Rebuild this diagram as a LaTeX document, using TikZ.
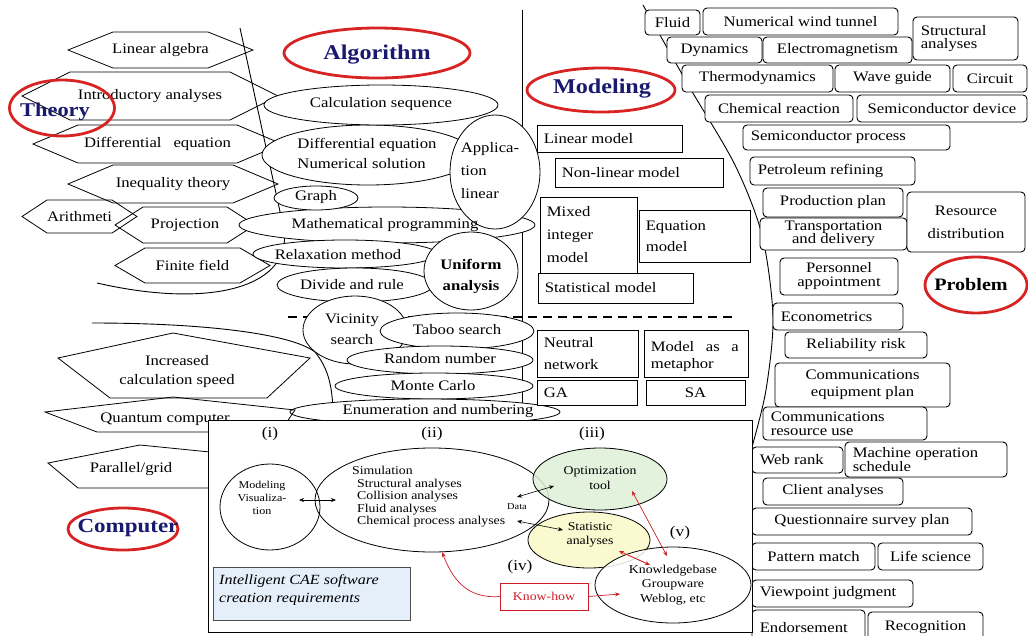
\documentclass[tikz,border=0pt]{standalone}
\usepackage{fontspec}
\setmainfont{Liberation Serif}[FakeStretch=1.15]
\usetikzlibrary{shapes.geometric,arrows.meta}

\definecolor{navy}{RGB}{25,25,110}
\definecolor{ringred}{RGB}{215,35,35}
\definecolor{optgreen}{RGB}{222,240,214}
\definecolor{statyellow}{RGB}{250,248,200}
\definecolor{caeblue}{RGB}{228,239,250}
\definecolor{khred}{RGB}{205,30,40}

\newcommand\labfont{\fontsize{14.5}{16}\selectfont}
\newcommand\cafont{\fontsize{12}{12.5}\selectfont}
\newcommand\tinyfnt{\fontsize{10.5}{13}\selectfont}
\newcommand\parenfont{\fontsize{15}{16}\selectfont}

% hexagon with its label: name, x1, x2, y1, y2, corner depth, text
\newcommand\hexlabel[7]{%
  \draw[hexa] (#2,{(#4+#5)/2}) -- ({#2+#6},#4) -- ({#3-#6},#4) -- (#3,{(#4+#5)/2})
     -- ({#3-#6},#5) -- ({#2+#6},#5) -- cycle;
  \node[lbl] (#1) at ({(#2+#3)/2},{(#4+#5)/2}) {#7};}
% rounded box, centred text: [opts], name, x1, y1, x2, y2, text
\newcommand\pbx[7][]{%
  \node[pbox, minimum width={#5-#3}, minimum height={#6-#4}, #1] (#2)
     at ({(#3+#5)/2},{(#4+#6)/2}) {#7};}
% rounded box, text set from the left
\newcommand\pbxl[7][]{%
  \node[pbox, minimum width={#5-#3}, minimum height={#6-#4}] (#2)
     at ({(#3+#5)/2},{(#4+#6)/2}) {};
  \node[lbll, anchor=west, #1] (#2-t) at ([xshift=8pt]#2.west) {#7};}
% square model box, text set from the left
\newcommand\mbx[7][]{%
  \node[mbox, minimum width={#5-#3}, minimum height={#6-#4}] (#2)
     at ({(#3+#5)/2},{(#4+#6)/2}) {};
  \node[lbll, anchor=west, #1] (#2-t) at ([xshift=7pt]#2.west) {#7};}

\begin{document}
\begin{tikzpicture}[x=1pt,y=-1pt,
  >={Stealth[length=5pt,width=4pt]},
  edge/.style={line width=0.9pt},
  hexa/.style={line width=0.8pt},
  lbl/.style={font=\labfont, inner sep=0pt, align=center},
  lbll/.style={font=\labfont, inner sep=0pt, align=left},
  alg/.style={ellipse, draw, fill=white, line width=0.8pt, inner sep=0pt},
  redring/.style={ellipse, draw=ringred, line width=2.8pt, inner sep=0pt},
  title/.style={text=navy, inner sep=0pt},
  pbox/.style={draw, fill=white, rounded corners=4pt, line width=0.9pt,
     inner sep=0pt, font=\labfont, align=center},
  mbox/.style={draw, fill=white, line width=0.8pt, inner sep=0pt},
  inell/.style={ellipse, draw, line width=0.8pt, inner sep=0pt},
  catext/.style={font=\cafont, inner sep=0pt, align=center}]

\useasboundingbox (0,0) rectangle (1028,635);

% ---------- region boundaries ----------
\draw[edge] (240,28) -- (284,230) .. controls (292,285) and (215,310) .. (97,283);
\draw[edge] (92,323) .. controls (200,323) and (290,333) .. (315,352)
   .. controls (328,368) and (332,385) .. (333,410);
\draw[edge] (522,10) -- (522,420);
\draw[edge] plot[smooth] coordinates {(643,5) (690,88) (735,165) (762,235) (773,317) (766,390) (752,447)};
\draw[dashed, dash pattern=on 9pt off 6pt, line width=1.5pt] (288,317) -- (732,317);

% ---------- Theory ----------
\hexlabel{linalg}{68}{253}{32}{68}{45}{Linear algebra}
\hexlabel{intro}{22}{278}{72}{120}{48}{Introductory analyses}
\hexlabel{diffeq}{33}{282}{125}{163}{45}{Differential\hspace{12pt}equation}
\hexlabel{ineq}{68}{278}{165}{203}{45}{Inequality theory}
\hexlabel{arith}{22}{137}{200}{233}{25}{Arithmeti}
\hexlabel{proj}{115}{255}{207}{243}{28}{Projection}
\hexlabel{finite}{115}{270}{248}{283}{30}{Finite field}
\node[redring, minimum width=105pt, minimum height=56pt] (theoryring) at (62,108) {};
\node[title, font=\bfseries\fontsize{19.5}{20}\selectfont] (theory) at (55,112) {Theory};

% ---------- Algorithm ----------
\node[redring, minimum width=186pt, minimum height=50pt] (algring) at (377,53) {};
\node[title, font=\bfseries\fontsize{21}{22}\selectfont] (algorithm) at (377,55) {Algorithm};

\node[alg, minimum width=212pt, minimum height=60pt] (diffnum) at (368,155) {};
\node[alg, minimum width=234pt, minimum height=40pt] (calc) at (381,105) {};
\node[alg, minimum width=296pt, minimum height=36pt] (math) at (387,225) {};
\node[alg, minimum width=84pt, minimum height=24pt] (graph) at (316,198) {};
\node[alg, minimum width=90pt, minimum height=114pt] (applica) at (495,172) {};
\node[alg, minimum width=184pt, minimum height=28pt] (relax) at (345,254) {};
\node[alg, minimum width=156pt, minimum height=34pt] (divide) at (355,285) {};
\node[alg, minimum width=94pt, minimum height=78pt] (uniform) at (471,271) {};
\node[alg, minimum width=104pt, minimum height=68pt] (vicinity) at (355,330) {};
\node[alg, minimum width=154pt, minimum height=36pt] (taboo) at (457,331) {};
\node[alg, minimum width=186pt, minimum height=28pt] (random) at (440,360) {};
\node[alg, minimum width=198pt, minimum height=26pt] (monte) at (434,386) {};
\node[alg, minimum width=270pt, minimum height=26pt] (enum) at (425,412) {};

\node[lbl] (calc-t) at (381,104) {Calculation sequence};
\node[lbll] (diffnum-t) at (367,153) {Differential equation\\[4pt]Numerical solution};
\node[lbl] (graph-t) at (316,197) {Graph};
\node[lbl] (math-t) at (385,225) {Mathematical programming};
\node[lbll] (applica-t) at (490,171) {Applica-\\[7pt]tion\\[7pt]linear};
\node[lbl] (relax-t) at (338,255) {Relaxation method};
\node[lbl] (divide-t) at (352,285) {Divide and rule};
\node[lbl, font=\bfseries\labfont] (uniform-t) at (471,276) {Uniform\\[5pt]analysis};
\node[lbl] (vicinity-t) at (352,329) {Vicinity\\[5pt]search};
\node[lbl] (taboo-t) at (457,330) {Taboo search};
\node[lbl] (random-t) at (440,359) {Random number};
\node[lbl] (monte-t) at (433,386) {Monte Carlo};
\node[lbl] (enum-t) at (438,411) {Enumeration and numbering};

% ---------- Computer ----------
\draw[hexa] (58,358) -- (173,333) -- (310,358) -- (267,398) -- (110,398) -- cycle;
\draw[hexa] (45,412) -- (173,397) -- (295,410) -- (280,432) -- (97,432) -- cycle;
\draw[hexa] (48,463) -- (140,445) -- (240,455) -- (240,488) -- (78,488) -- cycle;
\node[lbl] (speed) at (177,372) {Increased\\[3pt]calculation speed};
\node[lbl] (quantum) at (165,419) {Quantum computer};
\node[lbl] (grid) at (131,469) {Parallel/grid};
\node[redring, minimum width=110pt, minimum height=42pt] (compring) at (123,529) {};
\node[title, font=\bfseries\fontsize{20}{21}\selectfont] (computer) at (128,528) {Computer};

% ---------- Modeling ----------
\node[redring, minimum width=148pt, minimum height=44pt] (modring) at (601,90) {};
\node[title, font=\bfseries\fontsize{21}{22}\selectfont] (modeling) at (602,89) {Modeling};
\mbx{lin}{537}{125}{682}{152}{Linear model}
\mbx{nonlin}{555}{158}{723}{187}{Non-linear model}
\mbx{eqn}{639}{210}{750}{262}{Equation\\[5pt]model}
\mbx{statm}{538}{273}{693}{303}{Statistical model}
\mbx{mixed}{540}{197}{637}{273}{Mixed\\[7pt]integer\\[7pt]model}
\mbx{neural}{537}{330}{638}{377}{Neutral\\[6pt]network}
\mbx[yshift=-3pt]{meta}{644}{330}{748}{377}{\makebox[88pt][s]{Model as a}\\[1pt]metaphor}
\mbx{ga}{537}{380}{637}{405}{GA}
\node[mbox, minimum width=99pt, minimum height=25pt, font=\labfont] (sa) at (695.5,392.5) {SA};

% ---------- Problem ----------
\pbx{fluid}{645}{10}{700}{35}{Fluid}
\pbx{nwt}{703}{8}{898}{35}{Numerical wind tunnel}
\pbx{dyn}{667}{37}{762}{63}{Dynamics}
\pbx{emag}{763}{37}{912}{63}{Electromagnetism}
\pbxl{struct}{913}{17}{1018}{60}{Structural\\[-3pt]analyses}
\pbx{thermo}{682}{65}{833}{92}{Thermodynamics}
\pbx{wave}{835}{65}{950}{92}{Wave guide}
\pbx{circuit}{953}{65}{1027}{92}{Circuit}
\pbx{chemr}{705}{95}{853}{122}{Chemical reaction}
\pbx{semid}{857}{95}{1027}{122}{Semiconductor device}
\pbxl{semip}{743}{125}{950}{150}{Semiconductor process}
\pbxl{petro}{750}{157}{915}{185}{Petroleum refining}
\pbx{prod}{763}{188}{903}{217}{Production plan}
\pbx{trans}{760}{218}{907}{250}{Transportation\\[-3pt]and delivery}
\pbx{resource}{907}{192}{1025}{252}{Resource\\[7pt]distribution}
\pbx{person}{780}{258}{898}{295}{Personnel\\[-2pt]appointment}
\node[redring, minimum width=102pt, minimum height=56pt] (probring) at (976,285) {};
\node[inner sep=0pt, font=\bfseries\fontsize{17.5}{18}\selectfont] (problem) at (971,285) {Problem};
\pbxl{econ}{773}{303}{903}{330}{Econometrics}
\pbx{rel}{785}{332}{927}{358}{Reliability risk}
\pbx{commeq}{775}{363}{950}{407}{Communications\\[1pt]equipment plan}
\pbxl{commres}{763}{407}{927}{440}{Communications\\[-2pt]resource use}
\pbxl{web}{752}{447}{843}{473}{Web rank}
\pbxl{machine}{845}{442}{1007}{477}{Machine operation\\[-2pt]schedule}
\pbx{client}{763}{478}{903}{505}{Client analyses}
\pbx{quest}{752}{508}{972}{535}{Questionnaire survey plan}
\pbx{pattern}{752}{543}{875}{570}{Pattern match}
\pbx{life}{878}{543}{983}{570}{Life science}
\pbxl{view}{752}{580}{913}{607}{Viewpoint judgment}
\pbxl[yshift=-3pt]{endorse}{752}{610}{865}{640}{Endorsement}
\pbx[yshift=-2pt]{recog}{868}{610}{983}{640}{Recognition}

% ---------- Intelligent CAE panel ----------
\node[draw, fill=white, line width=0.8pt, minimum width=544pt, minimum height=212pt, inner sep=0pt] (panel) at (480,526) {};
\node[draw=black!70, fill=caeblue, line width=0.7pt, minimum width=197pt, minimum height=53pt, inner sep=0pt] (cae) at (311.5,593.5) {};
\node[anchor=west, inner sep=0pt, align=left, font=\itshape\fontsize{14}{18}\selectfont] (cae-t) at (219,590) {Intelligent CAE software\\creation requirements};

\node[inner sep=0pt, font=\parenfont] (p1) at (270,434) {(i)};
\node[inner sep=0pt, font=\parenfont] (p2) at (432,434) {(ii)};
\node[inner sep=0pt, font=\parenfont] (p3) at (592,434) {(iii)};
\node[inner sep=0pt, font=\parenfont] (p4) at (520,567) {(iv)};
\node[inner sep=0pt, font=\parenfont] (p5) at (680,533) {(v)};

\node[inell, minimum width=100pt, minimum height=86pt] (model) at (270,507) {};
\node[inell, minimum width=234pt, minimum height=104pt] (sim) at (432,500) {};
\node[inell, fill=optgreen, fill opacity=0.85, minimum width=134pt, minimum height=62pt] (opt) at (600,479) {};
\node[inell, fill=statyellow, fill opacity=0.85, minimum width=122pt, minimum height=56pt] (stat) at (589,540) {};
\node[inell, fill=white, fill opacity=0.85, minimum width=156pt, minimum height=76pt] (kb) at (673,585) {};

\node[inner sep=0pt, align=center, font=\tinyfnt] (model-t) at (262,498) {Modeling\\Visualiza-\\tion};
\node[anchor=west, inner sep=0pt, align=left, font=\cafont] (sim-t) at (352,497)
  {Simulation\\\hspace*{5pt}Structural analyses\\\hspace*{5pt}Collision analyses\\\hspace*{5pt}Fluid analyses\\\hspace*{5pt}Chemical process analyses};
\node[catext] (opt-t) at (600,478) {Optimization\\[3pt]tool};
\node[catext] (stat-t) at (590,535) {Statistic\\[2pt]analyses};
\node[catext] (kb-t) at (673,585) {Knowledgebase\\[2pt]Groupware\\[2pt]Weblog, etc};
\node[inner sep=0pt, font=\fontsize{9}{10}\selectfont] (data) at (517,507) {Data};
\node[draw=khred, fill=white, text=khred, line width=0.8pt, minimum width=88pt, minimum height=27pt, inner sep=0pt, font=\cafont] (kh) at (544,596.5) {Know-how};

% connectors inside the panel
\coordinate (mv-a) at (299,500);
\coordinate (mv-b) at (336,500);
\draw[<->, line width=0.6pt] (mv-a) -- (mv-b);
\coordinate (d-a) at (517,497);
\coordinate (d-b) at (554,486);
\draw[<->, line width=0.6pt] (d-a) -- (d-b);
\coordinate (s-a) at (517,521);
\coordinate (s-b) at (563,530);
\draw[<->, line width=0.6pt] (s-a) -- (s-b);
\coordinate (ok-a) at (632,491);
\coordinate (ok-b) at (667,556);
\draw[<->, khred, line width=0.7pt] (ok-a) -- (ok-b);
\coordinate (sk-a) at (619,551);
\coordinate (sk-b) at (650,565);
\draw[<->, khred, line width=0.9pt] (sk-a) -- (sk-b);
\coordinate (kb-in) at (620,594);
\draw[->, khred, line width=0.7pt] (kh.east) -- (kb-in);
\draw[->, khred, line width=0.7pt] (kh.west) .. controls (466,599) and (452,578) .. (sim.-79);

\end{tikzpicture}
\end{document}
